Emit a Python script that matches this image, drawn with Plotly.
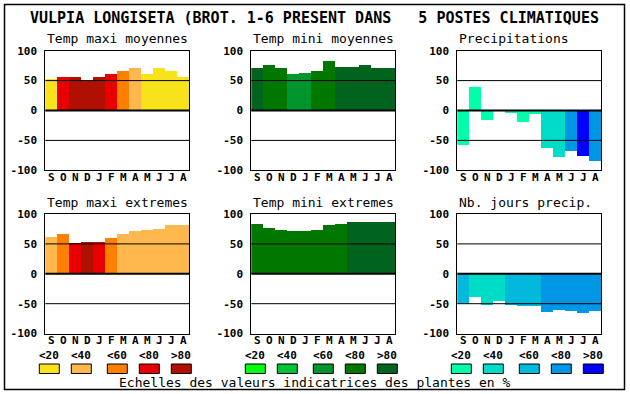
import plotly.graph_objects as go

W, H = 630, 394

months = ["S", "O", "N", "D", "J", "F", "M", "A", "M", "J", "J", "A"]
y_ticks = [-100, -50, 0, 50, 100]
y_ticktext = ["-100", "-50", "0", "50", "100"]
class_labels = ["<20", "<40", "<60", "<80", ">80"]

warm_colors = ["#F8E21A", "#FFB84E", "#FF8000", "#E80000", "#B01000"]
green_colors = ["#00FF10", "#00C438", "#00962D", "#007800", "#00641E"]
blue_colors = ["#00FFAA", "#00DCC8", "#00B9DC", "#0096E6", "#0000FF"]

main_title = "VULPIA LONGISETA (BROT. 1-6 PRESENT DANS   5 POSTES CLIMATIQUES"
footer = "Echelles des valeurs indicatrices des plantes en %"

titles = ["Temp maxi moyennes", "Temp mini moyennes", "Precipitations",
          "Temp maxi extremes", "Temp mini extremes", "Nb. jours precip."]

tmax_moy = [54, 57, 56, 50, 56, 61, 66, 72, 61, 71, 66, 57]
tmax_moy_cls = [0, 3, 4, 4, 4, 3, 2, 1, 0, 0, 0, 0]
tmin_moy = [72, 76, 71, 62, 64, 67, 83, 74, 74, 76, 71, 72]
tmin_moy_cls = [4, 3, 3, 2, 2, 3, 3, 4, 4, 4, 4, 4]
precip = [-57, 40, -16, 0, -3, -18, -6, -63, -77, -68, -75, -84]
precip_cls = [0, 0, 0, 0, 0, 0, 0, 1, 1, 3, 4, 3]
tmax_ext = [62, 66, 52, 54, 54, 60, 67, 72, 73, 75, 81, 81]
tmax_ext_cls = [1, 2, 3, 4, 3, 2, 1, 1, 1, 1, 1, 1]
tmin_ext = [84, 77, 74, 71, 72, 74, 82, 84, 87, 87, 86, 87]
tmin_ext_cls = [3, 3, 3, 3, 3, 3, 3, 3, 4, 4, 4, 4]
njours = [-50, -38, -53, -46, -53, -54, -54, -64, -61, -63, -66, -63]
njours_cls = [2, 1, 1, 1, 2, 2, 2, 3, 3, 3, 3, 3]

panels = [
    (tmax_moy, tmax_moy_cls, warm_colors),
    (tmin_moy, tmin_moy_cls, green_colors),
    (precip, precip_cls, blue_colors),
    (tmax_ext, tmax_ext_cls, warm_colors),
    (tmin_ext, tmin_ext_cls, green_colors),
    (njours, njours_cls, blue_colors),
]

# layout geometry (pixels)
col_left = [45.3, 251.3, 457.3]
col_w = 144
row_top = [50.7, 214]
row_h = 119.6

MONO = "DejaVu Sans Mono"

def px_x(p):
    return p / W

def px_y(p):
    return 1 - p / H

fig = go.Figure()
layout = dict(
    width=W, height=H,
    margin=dict(l=0, r=0, t=0, b=0, pad=0, autoexpand=False),
    paper_bgcolor="white", plot_bgcolor="white",
    showlegend=False, bargap=0,
    font=dict(family=MONO, color="black"),
)
shapes = []
annotations = []

for i, (vals, cls, pal) in enumerate(panels):
    r, c = divmod(i, 3)
    n = i + 1
    xa = "x" if n == 1 else f"x{n}"
    ya = "y" if n == 1 else f"y{n}"
    fig.add_trace(go.Bar(
        x=list(range(len(months))), y=vals,
        marker=dict(color=[pal[k] for k in cls], line=dict(width=0)),
        xaxis=xa, yaxis=ya, width=1.0, hoverinfo="skip",
    ))
    x0 = col_left[c]
    y0 = row_top[r]
    layout[f"xaxis{'' if n == 1 else n}"] = dict(
        domain=[px_x(x0), px_x(x0 + col_w)],
        anchor=ya, range=[-0.5, len(months) - 0.5],
        tickvals=list(range(len(months))), ticktext=months,
        showgrid=False, zeroline=False, ticks="", automargin=False,
        showline=True, mirror=True, linecolor="black", linewidth=1,
        tickfont=dict(family=MONO, size=11, weight="bold", color="black"),
        ticklabelstandoff=-4, fixedrange=True,
    )
    layout[f"yaxis{'' if n == 1 else n}"] = dict(
        domain=[px_y(y0 + row_h), px_y(y0)],
        anchor=xa, range=[-100, 100],
        tickvals=y_ticks, ticktext=y_ticktext,
        showgrid=False, zeroline=False, ticks="", automargin=False,
        showline=True, mirror=True, linecolor="black", linewidth=1,
        tickfont=dict(family=MONO, size=11, weight="bold", color="black"),
        ticklabelstandoff=5, fixedrange=True,
    )
    for v, lw in ((50, 1), (0, 2), (-50, 1)):
        shapes.append(dict(type="line", xref=f"{xa} domain", yref=ya,
                           x0=0, x1=1, y0=v, y1=v, layer="above",
                           line=dict(color="black", width=lw)))
    annotations.append(dict(
        text=titles[i], xref="paper", yref="paper",
        x=px_x(x0), y=px_y(y0 - 12), xanchor="left", yanchor="middle",
        showarrow=False, font=dict(family=MONO, size=13, color="black"),
    ))

# legends under bottom row
sw_off = [-6, 26, 62, 94, 126]
sw_w = 20
for c, pal in enumerate([warm_colors, green_colors, blue_colors]):
    for k, col in enumerate(pal):
        sx = col_left[c] + sw_off[k]
        shapes.append(dict(type="rect", xref="paper", yref="paper",
                           x0=px_x(sx), x1=px_x(sx + sw_w),
                           y0=px_y(373.5), y1=px_y(364),
                           fillcolor=col, line=dict(color="black", width=1)))
        annotations.append(dict(
            text=class_labels[k], xref="paper", yref="paper",
            x=px_x(sx + sw_w / 2), y=px_y(355), xanchor="center", yanchor="middle",
            borderpad=0,
            showarrow=False, font=dict(family=MONO, size=11, weight="bold", color="black"),
        ))

annotations.append(dict(
    text=main_title, xref="paper", yref="paper",
    x=px_x(314), y=px_y(18), xanchor="center", yanchor="middle",
    showarrow=False, font=dict(family=MONO, size=15, weight="bold", color="black"),
))
annotations.append(dict(
    text=footer, xref="paper", yref="paper",
    x=px_x(314.7), y=px_y(382.5), xanchor="center", yanchor="middle",
    showarrow=False, font=dict(family=MONO, size=13, color="black"),
))

# outer frame
shapes.append(dict(type="rect", xref="paper", yref="paper",
                   x0=px_x(4.5), x1=px_x(624.5), y0=px_y(389.5), y1=px_y(4.5),
                   line=dict(color="black", width=1.5), fillcolor="rgba(0,0,0,0)"))

layout["shapes"] = shapes
layout["annotations"] = annotations
fig.update_layout(**layout)
fig.write_html("out.html", config={"displayModeBar": False},
               post_script="document.body.style.margin='0';document.body.style.overflow='hidden';")
